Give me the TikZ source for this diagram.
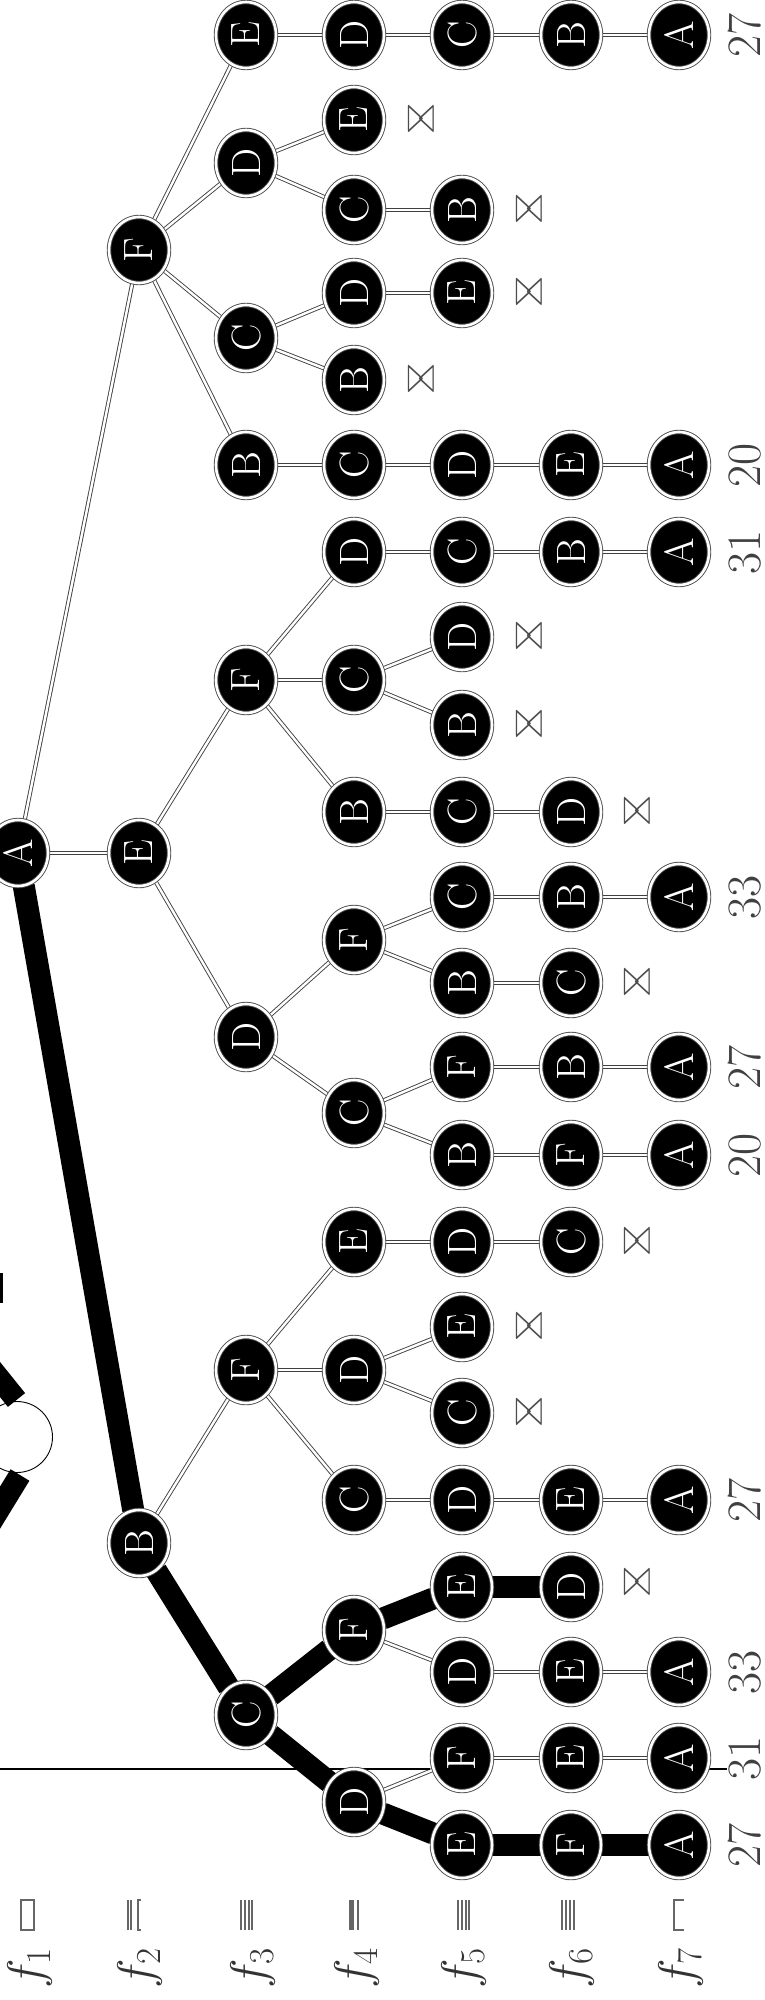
\RequirePackage{fix-cm}
\documentclass[tikz,border=0pt]{standalone}
\usetikzlibrary{shapes.geometric}
\pgfdeclarelayer{bg}
\pgfsetlayers{bg,main}
\tikzset{
  nd/.style={ellipse, fill=black, draw=black!70, line width=0.9pt, double=white,
    double distance=2.6pt, minimum width=66pt, minimum height=60pt, inner sep=0pt,
    text=white, font=\fontsize{41}{41}\selectfont, rotate=90},
  ed/.style={draw=black!75, line width=0.9pt, double=white, double distance=2.4pt},
  thk/.style={draw=black, line width=22pt},
  cost/.style={rotate=90, font=\fontsize{48}{48}\selectfont, text=black!75, inner sep=0pt},
  cut/.style={font=\fontsize{34}{34}\selectfont, text=black!70, inner sep=0pt},
  lvl/.style={rotate=90, font=\fontsize{50}{50}\selectfont, text=black!80, inner sep=0pt},
  glyph/.style={draw=black!60, line width=1.2pt},
}
\begin{document}
\begin{tikzpicture}[x=1pt,y=-1pt]
\useasboundingbox (0,0) rectangle (765,2000);
% ---------- root
\node[nd] (r) at (18,853) {A};
% ---------- F subtree (top)
\node[nd] (f) at (139,250) {F};
\node[nd] (fb) at (246,465) {B};
\node[nd] (fbc) at (354,465) {C};
\node[nd] (fbcd) at (462,465) {D};
\node[nd] (fbcde) at (571,465) {E};
\node[nd] (fbcdea) at (679,465) {A};
\node[nd] (fc) at (246,338) {C};
\node[nd] (fcb) at (354,380) {B};
\node[nd] (fcd) at (354,293) {D};
\node[nd] (fcde) at (462,293) {E};
\node[nd] (fd) at (246,163) {D};
\node[nd] (fdc) at (354,210) {C};
\node[nd] (fdcb) at (462,210) {B};
\node[nd] (fde) at (354,120) {E};
\node[nd] (fe) at (246,35) {E};
\node[nd] (fed) at (354,35) {D};
\node[nd] (fedc) at (462,35) {C};
\node[nd] (fedcb) at (571,35) {B};
\node[nd] (fedcba) at (679,35) {A};
% ---------- E subtree
\node[nd] (e) at (139,853) {E};
\node[nd] (ef) at (246,680) {F};
\node[nd] (efb) at (354,812) {B};
\node[nd] (efbc) at (462,812) {C};
\node[nd] (efbcd) at (571,812) {D};
\node[nd] (efc) at (354,680) {C};
\node[nd] (efcb) at (462,725) {B};
\node[nd] (efcd) at (462,637) {D};
\node[nd] (efd) at (354,552) {D};
\node[nd] (efdc) at (462,552) {C};
\node[nd] (efdcb) at (571,552) {B};
\node[nd] (efdcba) at (679,552) {A};
\node[nd] (ed) at (246,1037) {D};
\node[nd] (edc) at (354,1113) {C};
\node[nd] (edcb) at (462,1155) {B};
\node[nd] (edcbf) at (571,1155) {F};
\node[nd] (edcbfa) at (679,1155) {A};
\node[nd] (edcf) at (462,1067) {F};
\node[nd] (edcfb) at (571,1067) {B};
\node[nd] (edcfba) at (679,1067) {A};
\node[nd] (edf) at (354,940) {F};
\node[nd] (edfb) at (462,983) {B};
\node[nd] (edfbc) at (571,983) {C};
\node[nd] (edfc) at (462,897) {C};
\node[nd] (edfcb) at (571,897) {B};
\node[nd] (edfcba) at (679,897) {A};
% ---------- B subtree
\node[nd] (b) at (139,1543) {B};
\node[nd] (bf) at (246,1370) {F};
\node[nd] (bfc) at (354,1500) {C};
\node[nd] (bfcd) at (462,1500) {D};
\node[nd] (bfcde) at (571,1500) {E};
\node[nd] (bfcdea) at (679,1500) {A};
\node[nd] (bfd) at (354,1370) {D};
\node[nd] (bfdc) at (462,1413) {C};
\node[nd] (bfde) at (462,1327) {E};
\node[nd] (bfe) at (354,1242) {E};
\node[nd] (bfed) at (462,1242) {D};
\node[nd] (bfedc) at (571,1242) {C};
\node[nd] (bc) at (246,1715) {C};
\node[nd] (bcd) at (354,1802) {D};
\node[nd] (bcde) at (462,1845) {E};
\node[nd] (bcdef) at (571,1845) {F};
\node[nd] (bcdefa) at (679,1845) {A};
\node[nd] (bcdf) at (462,1758) {F};
\node[nd] (bcdfe) at (571,1758) {E};
\node[nd] (bcdfea) at (679,1758) {A};
\node[nd] (bcf) at (354,1630) {F};
\node[nd] (bcfd) at (462,1672) {D};
\node[nd] (bcfde) at (571,1672) {E};
\node[nd] (bcfdea) at (679,1672) {A};
\node[nd] (bcfe) at (462,1587) {E};
\node[nd] (bcfed) at (571,1587) {D};
% ---------- edges
\begin{pgfonlayer}{bg}
\foreach \p/\c in {r/e, r/f,
  f/fb, fb/fbc, fbc/fbcd, fbcd/fbcde, fbcde/fbcdea,
  f/fc, fc/fcb, fc/fcd, fcd/fcde,
  f/fd, fd/fdc, fdc/fdcb, fd/fde,
  f/fe, fe/fed, fed/fedc, fedc/fedcb, fedcb/fedcba,
  e/ef, ef/efb, efb/efbc, efbc/efbcd, ef/efc, efc/efcb, efc/efcd,
  ef/efd, efd/efdc, efdc/efdcb, efdcb/efdcba,
  e/ed, ed/edc, edc/edcb, edcb/edcbf, edcbf/edcbfa, edc/edcf, edcf/edcfb, edcfb/edcfba,
  ed/edf, edf/edfb, edfb/edfbc, edf/edfc, edfc/edfcb, edfcb/edfcba,
  b/bf, bf/bfc, bfc/bfcd, bfcd/bfcde, bfcde/bfcdea, bf/bfd, bfd/bfdc, bfd/bfde,
  bf/bfe, bfe/bfed, bfed/bfedc,
  bcd/bcdf, bcdf/bcdfe, bcdfe/bcdfea,
  bcf/bcfd, bcfd/bcfde, bcfde/bcfdea}
  \draw[ed] (\p) -- (\c);
\foreach \p/\c in {r/b, b/bc, bc/bcd, bcd/bcde, bcde/bcdef, bcdef/bcdefa,
  bc/bcf, bcf/bcfe, bcfe/bcfed}
  \draw[thk] (\p) -- (\c);
% stray horizontal rule
\coordinate (h0) at (0,1769);
\coordinate (h1) at (430,1769);
\coordinate (h2) at (705,1769);
\coordinate (h3) at (727,1769);
\draw[line width=1.3pt] (h0) -- (h1);
\draw[line width=1.3pt] (h2) -- (h3);
\end{pgfonlayer}
% ---------- costs
\node[cost] (c1) at (745,35) {27};
\node[cost] (c2) at (745,465) {20};
\node[cost] (c3) at (745,552) {31};
\node[cost] (c4) at (745,897) {33};
\node[cost] (c5) at (745,1067) {27};
\node[cost] (c6) at (745,1155) {20};
\node[cost] (c7) at (745,1500) {27};
\node[cost] (c8) at (745,1672) {33};
\node[cost] (c9) at (745,1758) {31};
\node[cost] (c10) at (745,1845) {27};
% ---------- pruned marks
\foreach \n/\x/\y in {m1/421/120, m2/529/210, m3/529/293, m4/421/380, m5/529/637,
  m6/529/725, m7/637/812, m8/637/983, m9/637/1242, m10/529/1327, m11/529/1413, m12/637/1583}
  \node[cut] (\n) at (\x,\y) {\scalebox{1}[1.6]{$\bowtie$}};
% ---------- level labels
\foreach \k/\x in {1/30, 2/140, 3/253, 4/357, 5/464, 6/572, 7/681}
  \node[lvl] (l\k) at (\x,1968) {$f_{\k}$};
% glyphs above labels
\draw[glyph] (21,1900) rectangle (34,1930);
\draw[glyph] (128,1900) -- (128,1930) (131,1900) -- (131,1930) (141,1900) -- (138,1900) -- (138,1930) -- (141,1930);
\draw[glyph] (241,1900) -- (241,1930) (245,1900) -- (245,1930) (249,1900) -- (249,1930) (252,1900) -- (252,1930);
\fill[black!60] (349,1900) rectangle (354,1930);
\draw[glyph] (358,1900) -- (358,1930);
\draw[glyph] (458,1900) -- (458,1930) (462,1900) -- (462,1930) (466,1900) -- (466,1930) (469,1900) -- (469,1930);
\draw[glyph] (562,1900) -- (562,1930) (566,1900) -- (566,1930) (570,1900) -- (570,1930) (574,1900) -- (574,1930);
\draw[glyph] (684,1900) -- (674,1900) -- (674,1930) -- (684,1930);
% ---------- stray cut-off shapes at left edge
\fill (0,1273) rectangle (3,1303);
\draw[line width=0.9pt] (17,1437) circle[radius=35.5];
\draw[line width=22pt] (-10,1367) -- (16.5,1400);
\draw[line width=22pt] (20,1475) -- (-10,1524);
\end{tikzpicture}
\end{document}
